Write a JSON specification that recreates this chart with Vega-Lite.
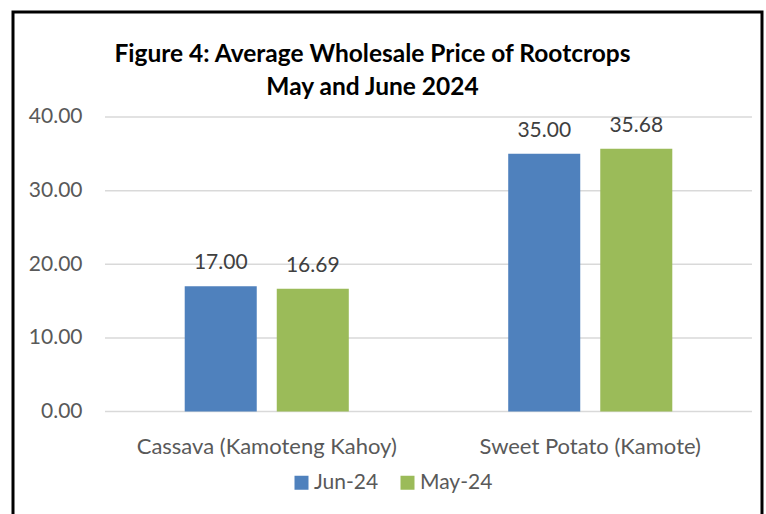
{
  "$schema": "https://vega.github.io/schema/vega-lite/v6.json",
  "width": 749,
  "height": 504,
  "autosize": {"type": "none"},
  "padding": {"left": 13, "top": 12, "right": 4, "bottom": 0},
  "background": "white",
  "config": {
    "font": "Lato",
    "view": {"stroke": "black", "strokeWidth": 3}
  },
  "title": {
    "text": ["Figure 4: Average Wholesale Price of Rootcrops", "May and June 2024"],
    "font": "Lato",
    "fontSize": 24.5,
    "fontWeight": "bold",
    "color": "black",
    "anchor": "middle",
    "dx": -15,
    "offset": -88,
    "lineHeight": 33
  },
  "resolve": {"scale": {"x": "independent"}, "axis": {"x": "independent"}},
  "layer": [
    {
      "data": {"values": [{"v": 0}, {"v": 10}, {"v": 20}, {"v": 30}, {"v": 40}]},
      "mark": {"type": "rule", "color": "#D9D9D9", "strokeWidth": 1.5},
      "encoding": {
        "y": {"field": "v", "type": "quantitative", "scale": {"domain": [-14.19, 54.26], "nice": false, "zero": false},
          "axis": {"title": null, "values": [0, 10, 20, 30, 40], "format": ".2f", "domain": false, "ticks": false, "tickSize": 0, "grid": false, "labelPadding": 0, "offset": -69, "labelFont": "Lato", "labelFontSize": 21, "labelColor": "#595959", "labelBaseline": "middle"}},
        "x": {"datum": 0, "type": "quantitative", "scale": {"domain": [-0.1422, 1.0155], "nice": false, "zero": false}, "axis": null},
        "x2": {"datum": 1}
      }
    },
    {
      "data": {"values": [
        {"crop": "Cassava (Kamoteng Kahoy)", "month": "Jun-24", "price": 17.00},
        {"crop": "Cassava (Kamoteng Kahoy)", "month": "May-24", "price": 16.69},
        {"crop": "Sweet Potato (Kamote)", "month": "Jun-24", "price": 35.00},
        {"crop": "Sweet Potato (Kamote)", "month": "May-24", "price": 35.68}
      ]},
      "encoding": {
        "x": {"field": "crop", "type": "nominal", "sort": null,
          "scale": {"paddingInner": 0, "paddingOuter": 0.15765, "align": 0.902},
          "axis": {"title": null, "orient": "bottom", "domain": false, "ticks": false, "tickSize": 0, "labelPadding": 0, "offset": -63, "labelBaseline": "alphabetic", "labelAngle": 0, "labelFont": "Lato", "labelFontSize": 22, "labelColor": "#595959", "labelLimit": 400}},
        "xOffset": {"field": "month", "type": "nominal", "sort": ["Jun-24", "May-24"], "scale": {"paddingInner": 0.2174, "paddingOuter": 0.866}},
        "y": {"field": "price", "type": "quantitative", "scale": {"domain": [-14.19, 54.26], "nice": false, "zero": false},
          "axis": {"title": null, "values": [0, 10, 20, 30, 40], "format": ".2f", "domain": false, "ticks": false, "tickSize": 0, "grid": false, "labelPadding": 0, "offset": -69, "labelFont": "Lato", "labelFontSize": 21, "labelColor": "#595959", "labelBaseline": "middle"}}
      },
      "layer": [
        {
          "mark": {"type": "bar"},
          "encoding": {
            "y2": {"datum": 0},
            "color": {"field": "month", "type": "nominal", "sort": ["Jun-24", "May-24"],
              "scale": {"domain": ["Jun-24", "May-24"], "range": ["#4F81BD", "#9BBB59"]},
              "legend": {"title": null, "orient": "none", "direction": "horizontal", "legendX": 278, "legendY": 460,
                "symbolType": "square", "symbolSize": 196, "symbolStrokeWidth": 0, "labelOffset": 2, "columnPadding": 18,
                "labelFont": "Lato", "labelFontSize": 21, "labelColor": "#595959"}}
          }
        },
        {
          "mark": {"type": "text", "baseline": "alphabetic", "dy": -17, "font": "Lato", "fontSize": 21, "color": "#404040"},
          "encoding": {
            "text": {"field": "price", "type": "quantitative", "format": ".2f"}
          }
        }
      ]
    }
  ]
}
